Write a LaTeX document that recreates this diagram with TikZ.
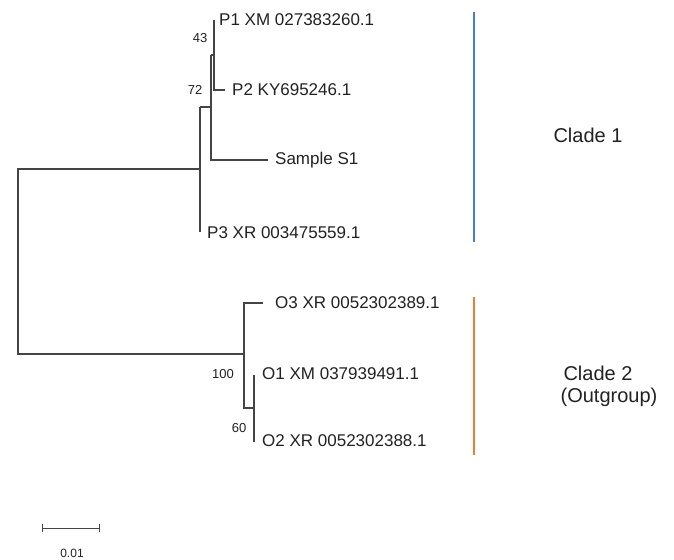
\documentclass[tikz,border=0pt]{standalone}
\usepackage{fontspec}
\setmainfont{Liberation Sans}
\definecolor{treeline}{HTML}{444444}
\definecolor{cladeblue}{HTML}{4A78D6}
\definecolor{cladeorange}{HTML}{ED7D31}
\definecolor{txt}{HTML}{222222}
\begin{document}
\begin{tikzpicture}[x=1pt,y=-1pt,
  branch/.style={draw=treeline,line width=1.2pt},
  leaflabel/.style={anchor=west,inner sep=0pt,text=txt,font=\fontsize{17}{19}\selectfont},
  bootlabel/.style={inner sep=0pt,text=txt,font=\fontsize{13}{15}\selectfont},
  cladelabel/.style={inner sep=0pt,text=txt,font=\fontsize{20}{22}\selectfont},
  cladebar/.style={line width=2pt}]
\useasboundingbox[fill=white] (0,0) rectangle (674,559);
% tree coordinates
\coordinate (rC) at (18,169);
\coordinate (rD) at (18,354);
\coordinate (nC) at (200,169);
\coordinate (nCt) at (200,107);
\coordinate (tP3) at (200,232);
\coordinate (nB) at (211,107);
\coordinate (nBt) at (211,55);
\coordinate (nBb) at (211,160);
\coordinate (tS1) at (268,160);
\coordinate (nA) at (214,55);
\coordinate (tP1) at (214,20);
\coordinate (nAb) at (214,90);
\coordinate (tP2) at (225,90);
\coordinate (nD) at (244,354);
\coordinate (nDt) at (244,303);
\coordinate (tO3) at (263,303);
\coordinate (nDb) at (244,408);
\coordinate (nE) at (254,408);
\coordinate (tO1) at (254,375);
\coordinate (tO2) at (254,442);
% branches
\draw[branch] (nC) -- (rC) -- (rD) -- (nD);
\draw[branch] (nCt) -- (tP3);
\draw[branch] (nCt) -- (nB);
\draw[branch] (nBt) -- (nBb) -- (tS1);
\draw[branch] (nBt) -- (nA);
\draw[branch] (tP1) -- (nAb) -- (tP2);
\draw[branch] (tO3) -- (nDt) -- (nDb) -- (nE);
\draw[branch] (tO1) -- (tO2);
% leaf labels
\node[leaflabel] (lP1) at (219,20) {P1 XM 027383260.1};
\node[leaflabel] (lP2) at (232,90) {P2 KY695246.1};
\node[leaflabel] (lS1) at (275,160) {Sample S1};
\node[leaflabel] (lP3) at (207,233) {P3 XR 003475559.1};
\node[leaflabel] (lO3) at (275,303) {O3 XR 0052302389.1};
\node[leaflabel] (lO1) at (262,374) {O1 XM 037939491.1};
\node[leaflabel] (lO2) at (262,441) {O2 XR 0052302388.1};
% bootstrap values
\node[bootlabel] (b43) at (200,38) {43};
\node[bootlabel] (b72) at (195,90) {72};
\node[bootlabel] (b100) at (223,374) {100};
\node[bootlabel] (b60) at (239,428) {60};
% clade bars
\coordinate (c1t) at (474,12);
\coordinate (c1b) at (474,242);
\coordinate (c2t) at (474,297);
\coordinate (c2b) at (474,455);
\draw[cladebar,cladeblue] (c1t) -- (c1b);
\draw[cladebar,cladeorange] (c2t) -- (c2b);
\node[cladelabel] (cl1) at (588,135) {Clade 1};
\node[cladelabel] (cl2) at (598,373) {Clade 2};
\node[cladelabel] (cl2b) at (609,397) {(Outgroup)};
% scale bar
\coordinate (sL) at (42,528);
\coordinate (sR) at (99,528);
\draw[branch,line width=1pt] (sL) -- (sR);
\draw[branch,line width=1pt] ([yshift=-4pt]sL) -- ([yshift=4pt]sL);
\draw[branch,line width=1pt] ([yshift=-4pt]sR) -- ([yshift=4pt]sR);
\node[bootlabel,font=\fontsize{12}{14}\selectfont] (sc) at (72,553) {0.01};
\end{tikzpicture}
\end{document}
